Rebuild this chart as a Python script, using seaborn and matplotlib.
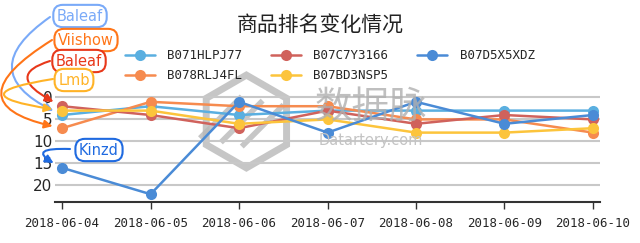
import numpy as np
import pandas as pd
import matplotlib
matplotlib.use("Agg")
import matplotlib.pyplot as plt
from matplotlib.patches import RegularPolygon
import seaborn as sns

dates = ["2018-06-04", "2018-06-05", "2018-06-06", "2018-06-07",
         "2018-06-08", "2018-06-09", "2018-06-10"]
products = ["B071HLPJ77", "B078RLJ4FL", "B07C7Y3166", "B07BD3NSP5", "B07D5X5XDZ"]
rank_B071HLPJ77 = [4, 2, 4, 3, 3, 3, 3]
rank_B078RLJ4FL = [7, 1, 2, 2, 5, 5, 8]
rank_B07C7Y3166 = [2, 4, 7, 3, 6, 4, 5]
rank_B07BD3NSP5 = [3, 3, 6, 5, 8, 8, 7]
rank_B07D5X5XDZ = [16, 22, 1, 8, 1, 6, 4]
colors = ["#5aafe0", "#f68b4f", "#d0625c", "#fcc43c", "#4a8bd6"]

brands = ["Baleaf", "Viishow", "Baleaf", "Lmb", "Kinzd"]
brand_colors = ["#7aaaf8", "#ff7518", "#e8381a", "#ffb327", "#1f6ae0"]

series = [rank_B071HLPJ77, rank_B078RLJ4FL, rank_B07C7Y3166,
          rank_B07BD3NSP5, rank_B07D5X5XDZ]
rows = []
for p, vals in zip(products, series):
    for i, (d, v) in enumerate(zip(dates, vals)):
        rows.append({"idx": i, "date": d, "product": p, "rank": v})
df = pd.DataFrame(rows)

sns.set_style("white")
plt.rcParams['font.family'] = ['DejaVu Sans', 'Noto Sans CJK SC']

W, H = 640, 243
fig = plt.figure(figsize=(6.4, 2.43), dpi=100)
ax = fig.add_axes([0.086, 0.17, 0.8515, 0.44])

# watermark
wm = fig.add_axes([0.30, 0.29, 0.17, 0.42])
wm.set_xlim(-1.1, 1.1); wm.set_ylim(-1.1, 1.1); wm.set_aspect('equal'); wm.axis('off')
wm.add_patch(RegularPolygon((0, 0), 6, radius=1.0, orientation=0, fill=False,
                            edgecolor="#b8b8b8", linewidth=5, alpha=0.8))
for off in [-0.45, 0.0, 0.45]:
    wm.plot([-0.55 + off, 0.35 + off], [-0.45 - off * 0.2, 0.45 - off * 0.2],
            color="#b8b8b8", lw=4, alpha=0.8, solid_capstyle='butt')
wm.set_zorder(0)
fig.text(0.58, 0.56, "数据脉", family=['Noto Sans CJK SC'], fontsize=27,
         color="#b0b0b0", alpha=0.8, ha='center', va='center')
fig.text(0.58, 0.42, "Datartery.com", fontsize=10.5, color="#c4c4c4",
         ha='center', va='center')
ax.set_zorder(1)
ax.patch.set_alpha(0)

sns.lineplot(data=df, x="idx", y="rank", hue="product", hue_order=products,
             palette=colors, marker="o", markersize=8, markeredgewidth=0,
             linewidth=1.8, ax=ax, legend=True, sort=False)

ax.set_ylim(23.7, -0.6)
ax.set_xlim(-0.08, 6.08)
ax.set_yticks([0, 5, 10, 15, 20])
ax.set_xticks(range(len(dates)))
ax.set_xticklabels(dates, family='DejaVu Sans Mono', fontsize=9)
ax.tick_params(axis='y', labelsize=11, length=0, pad=2)
ax.tick_params(axis='x', length=5, width=1, color="#333333", pad=6, direction='out', bottom=True)
ax.grid(axis='y', color="#c8c8c8", linewidth=1.5)
ax.grid(axis='x', visible=False)
for s in ["top", "right", "left"]:
    ax.spines[s].set_visible(False)
ax.spines["bottom"].set_color("#333333")
ax.spines["bottom"].set_linewidth(1.5)
ax.set_xlabel("")
ax.set_ylabel("")

handles, labels = ax.get_legend_handles_labels()
ax.get_legend().remove()
fig.legend(handles, labels, loc='upper center', bbox_to_anchor=(0.515, 0.843),
           ncol=3, frameon=False, prop={'family': 'DejaVu Sans Mono', 'size': 9},
           handlelength=2.4, handletextpad=1.0, columnspacing=2.3,
           labelspacing=0.55)

fig.text(0.5, 0.895, "商品排名变化情况", family=['Noto Sans CJK SC'], fontsize=15,
         ha='center', va='center', color="#222222")

# annotations: labels (figure pixels, from top) and curved arrows to first-day points
text_pos = [(80, 16), (86, 40), (79, 61), (74, 80), (99, 150)]
arrow_start = [(50, 17), (52, 40), (50, 61), (53, 79), (70, 149)]
angles = [(215, 156), (212, 169), (197, 154), (189, 172), (178, 153)]
for k, (b, c) in enumerate(zip(brands, brand_colors)):
    sx, sy = arrow_start[k]
    aA, aB = angles[k]
    ax.annotate("", xy=(0, series[k][0]), xycoords='data',
                xytext=(sx, H - sy), textcoords='figure pixels',
                arrowprops=dict(arrowstyle='-|>', color=c, lw=1.5,
                                connectionstyle=f'angle3,angleA={aA},angleB={aB}',
                                shrinkA=0, shrinkB=7, mutation_scale=12),
                annotation_clip=False, zorder=9)
    tx, ty = text_pos[k]
    ax.annotate(b, xy=(tx, H - ty), xycoords='figure pixels',
                fontsize=10.5, color=c, ha='center', va='center',
                bbox=dict(boxstyle='round,pad=0.25,rounding_size=0.65', fc='white', ec=c, lw=1.5),
                annotation_clip=False, zorder=10)

fig.savefig("out.png", dpi=100)
